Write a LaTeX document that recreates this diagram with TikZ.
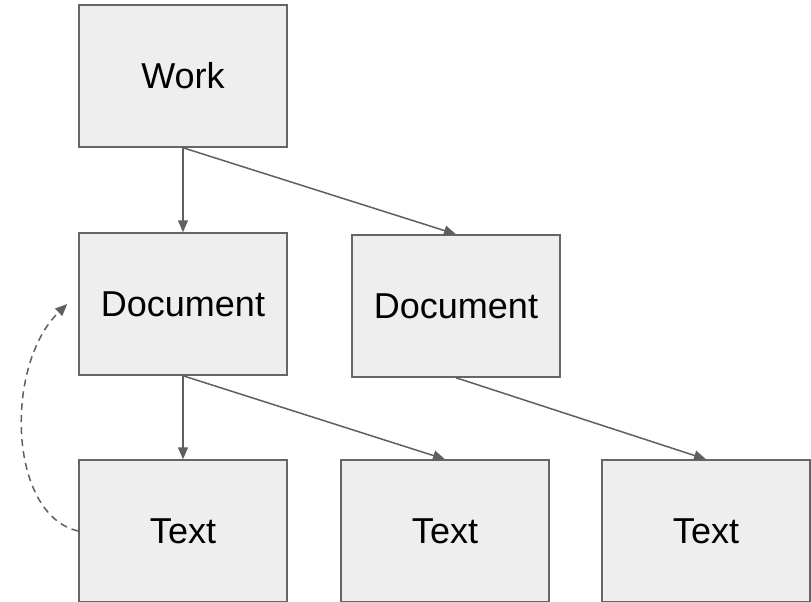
\documentclass[tikz,border=0pt]{standalone}
\usepackage{fontspec}
\setmainfont{Liberation Sans}
\usetikzlibrary{arrows.meta}
\definecolor{boxfill}{HTML}{EEEEEE}
\definecolor{boxline}{HTML}{666666}
\definecolor{linkgray}{HTML}{5F5F5F}
\tikzset{
  record/.style = {draw = boxline, fill = boxfill, line width = 1.5pt,
                   minimum width = 208pt, minimum height = 142pt,
                   inner sep = 0pt, font = \fontsize{36}{43}\selectfont},
  link/.style = {draw = linkgray, line width = 1.5pt,
                 -{Triangle[length = 12pt, width = 10pt]}}
}
\begin{document}
\begin{tikzpicture}[x = 1pt, y = -1pt]
            \useasboundingbox (0, 0) rectangle (811, 602);
            \node [record] (work) at (183, 76) {Work};
            \node [record] (doca) at (183, 304) {Document};
            \node [record] (docb) at (456, 306) {Document};
            \node [record] (texta) at (183, 531) {Text};
            \node [record] (textb) at (445, 531) {Text};
            \node [record] (textc) at (706, 531) {Text};
            \draw [link] (work.south) to (doca.north);
            \draw [link] (work.south) to (docb.north);
            \draw [link] (doca.south) to (texta.north);
            \draw [link] (doca.south) to (textb.north);
            \draw [link] (docb.south) to (textc.north);
            %\draw [link, dashed] (texta.west) to [bend left = 60] (doca.west);
            \draw [link, dashed, dash pattern = on 7pt off 5pt]
                (texta.west) .. controls (8, 515) and (4, 365) .. ([xshift = -11pt]doca.west);
        \end{tikzpicture}
\end{document}
